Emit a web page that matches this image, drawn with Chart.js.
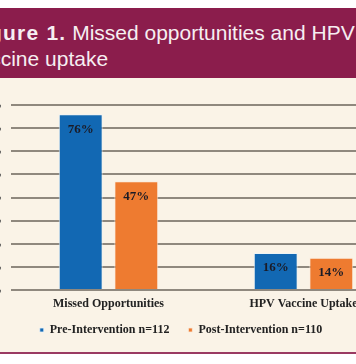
<!DOCTYPE html>
<html>
<head>
<meta charset="utf-8">
<script src="https://cdn.jsdelivr.net/npm/chart.js@4/dist/chart.umd.min.js"></script>
<style>
  html, body { margin: 0; padding: 0; background: #ffffff; }
  #wrap { position: relative; width: 356px; height: 364px; overflow: hidden; background: #ffffff; }
  #banner { position: absolute; left: 0; top: 8px; width: 356px; height: 70px; background: #8b1d4c; overflow: hidden; }
  #btext { position: absolute; left: -32px; top: 12px; white-space: nowrap; color: #f6eef1;
           font-family: "Liberation Sans", Arial, sans-serif; font-size: 21px; line-height: 26px; }
  #btext b { font-weight: bold; letter-spacing: 1.2px; }
  #panel { position: absolute; left: 0; top: 78px; width: 356px; height: 274px; background: #faf3e7; }
  #rule { position: absolute; left: 0; top: 352px; width: 356px; height: 2px; background: #9a3a62; }
  #c { position: absolute; left: -39px; top: 78px; }
</style>
</head>
<body>
<div id="wrap">
  <div id="banner"><div id="btext"><b>Figure 1.</b> Missed opportunities and HPV<br>vaccine uptake</div></div>
  <div id="panel"></div>
  <canvas id="c" width="440" height="274"></canvas>
  <div id="rule"></div>
</div>
<script>
const categories = ["Missed Opportunities", "HPV Vaccine Uptake"];
const seriesNames = ["Pre-Intervention n=112", "Post-Intervention n=110"];
const preValues = [76, 16];
const postValues = [47, 14];
const yTicks = [0, 10, 20, 30, 40, 50, 60, 70, 80];

const serif = "'Liberation Serif', 'Times New Roman', serif";

const barLabels = {
  id: 'barLabels',
  afterDatasetsDraw(chart) {
    const ctx = chart.ctx;
    ctx.save();
    ctx.font = "bold 13px " + serif;
    ctx.fillStyle = "#1b1b26";
    ctx.textAlign = "center";
    ctx.textBaseline = "middle";
    chart.data.datasets.forEach((ds, di) => {
      const meta = chart.getDatasetMeta(di);
      meta.data.forEach((el, i) => {
        ctx.fillText(ds.data[i] + "%", el.x, el.y + 15);
      });
    });
    ctx.restore();
  }
};

const legendShift = {
  id: 'legendShift',
  afterLayout(chart) {
    if (chart.legend) {
      chart.legend.top -= 6;
      chart.legend.bottom -= 6;
    }
  }
};

new Chart(document.getElementById('c'), {
  type: 'bar',
  data: {
    labels: categories,
    datasets: [
      { label: seriesNames[0], data: preValues, backgroundColor: '#1268b3', borderColor: 'rgba(235,242,248,0.8)', borderWidth: 1 },
      { label: seriesNames[1], data: postValues, backgroundColor: '#ee7b30', borderColor: 'rgba(250,235,220,0.8)', borderWidth: 1 }
    ]
  },
  options: {
    responsive: false,
    animation: false,
    devicePixelRatio: 1,
    categoryPercentage: 0.57,
    barPercentage: 0.79,
    layout: { padding: { top: 27, bottom: 0, left: 0, right: 0 } },
    plugins: {
      tooltip: { enabled: false },
      legend: {
        position: 'bottom',
        labels: {
          boxWidth: 4, boxHeight: 4, padding: 19,
          color: '#222222',
          font: { family: serif, size: 12, weight: 'bold' }
        }
      }
    },
    scales: {
      x: {
        grid: { display: false, drawTicks: false },
        border: { display: false },
        ticks: { color: '#222222', padding: 8, font: { family: serif, size: 12, weight: 'bold', lineHeight: 1.0 } },
        afterFit(scale) { scale.height = 21; }
      },
      y: {
        min: 0, max: 80,
        afterBuildTicks(scale) { scale.ticks = yTicks.map(v => ({ value: v })); },
        grid: { color: '#8f887e', lineWidth: 2, drawTicks: false },
        border: { display: false },
        ticks: { color: '#555555', padding: 9, font: { family: serif, size: 11, weight: 'bold' },
                 callback: v => v + '%' },
        afterFit(scale) { scale.width = 50; }
      }
    }
  },
  plugins: [barLabels, legendShift]
});
</script>
</body>
</html>
